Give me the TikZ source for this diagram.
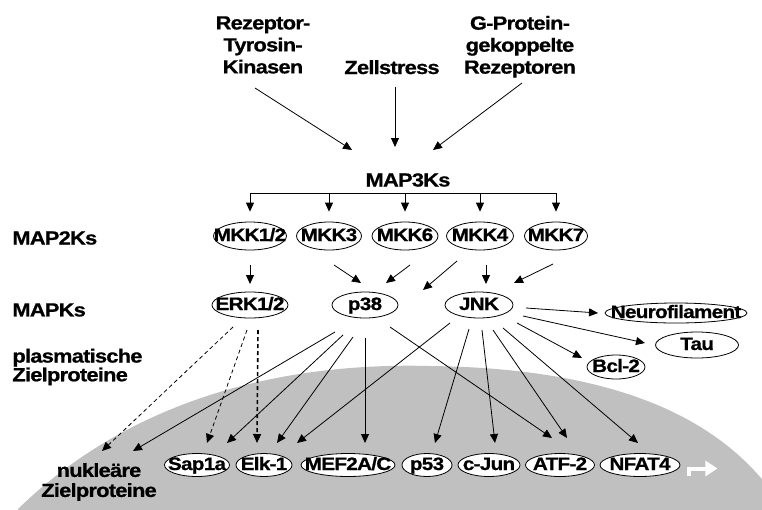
\documentclass[tikz,border=0pt]{standalone}
\usepackage{fontspec}
\setmainfont{Liberation Sans}[LetterSpace=-4,FakeStretch=1.15,BoldFeatures={FakeBold=0.8}]
\usetikzlibrary{arrows.meta,calc,shapes.geometric}
\definecolor{kern}{RGB}{192,192,192}
\newcommand{\kt}[1]{\makebox[0pt]{#1}}

\begin{document}
\begin{tikzpicture}[x=1pt,y=-1pt,>={Triangle[length=9pt,width=8pt]},line join=round,line width=0.8pt,
	font=\bfseries\fontsize{19}{22}\selectfont,
	lbl/.style={inner sep=0pt,align=center},
	kin/.style 2 args={ellipse,draw,fill=white,inner sep=0pt,minimum width=#1,minimum height=#2,
		text height=12pt,text depth=2pt,font=\bfseries\fontsize{18}{20}\selectfont},
	erkpf/.style={->,dash pattern=on 4pt off 3pt}]
	\useasboundingbox (0,0) rectangle (762,509);
	% Zellkern
	\begin{scope}
		\clip (0,0) rectangle (762,509);
		\fill[kern] (18,509) .. controls (130,400) and (280,362) .. (430,366)
		.. controls (600,368) and (730,410) .. (790,520) -- (18,520) -- cycle;
	\end{scope}
	% Ausloeser
	\node[lbl,anchor=south] (rtk) at (263,74) {Rezeptor-\\Tyrosin-\\Kinasen};
	\node[lbl,anchor=base] (zell) at (392,74) {Zellstress};
	\node[lbl,anchor=south] (gpcr) at (520,78) {G-Protein-\\gekoppelte\\Rezeptoren};
	\node[lbl] (map3k) at (408,180) {MAP3Ks};
	\coordinate (bar) at (408,193);
	% Zeilen
	\node[lbl,anchor=west] (map2k) at (12,238) {MAP2Ks};
	\node[lbl,anchor=west] (mapk) at (12,310) {MAPKs};
	\node[lbl,anchor=west,align=left,font=\bfseries\fontsize{19}{16}\selectfont] (plasm) at (12,367) {plasmatische\\Zielproteine};
	\node[lbl,font=\bfseries\fontsize{19}{20}\selectfont] (nukl) at (99,482) {nukleäre\\Zielproteine};
	% MAP2K
	\node[kin={73pt}{28pt}] (mkk12) at (250,236) {\kt{MKK1/2}};
	\node[kin={65pt}{28pt}] (mkk3) at (329,236) {\kt{MKK3}};
	\node[kin={66pt}{28pt}] (mkk6) at (405,236) {\kt{MKK6}};
	\node[kin={67pt}{28pt}] (mkk4) at (480,236) {\kt{MKK4}};
	\node[kin={63pt}{28pt}] (mkk7) at (556,236) {\kt{MKK7}};
	% MAPK
	\node[kin={76pt}{26pt}] (erk) at (250,305) {\kt{ERK1/2}};
	\node[kin={66pt}{26pt}] (p38) at (365,305) {\kt{p38}};
	\node[kin={68pt}{26pt}] (jnk) at (479,305) {\kt{JNK}};
	% plasmatisch
	\node[kin={142pt}{20pt}] (neuro) at (676,313) {\kt{Neurofilament}};
	\node[kin={83pt}{26pt}] (tau) at (697,345) {\kt{Tau}};
	\node[kin={58pt}{24pt}] (bcl) at (616,367) {\kt{Bcl-2}};
	% nukleaer
	\node[kin={65pt}{23pt}] (sap) at (197,465) {\kt{Sap1a}};
	\node[kin={56pt}{23pt}] (elk) at (264,465) {\kt{Elk-1}};
	\node[kin={94pt}{23pt}] (mef) at (348,465) {\kt{MEF2A/C}};
	\node[kin={50pt}{23pt}] (p53) at (427,465) {\kt{p53}};
	\node[kin={62pt}{23pt}] (cjun) at (489,465) {\kt{c-Jun}};
	\node[kin={69pt}{23pt}] (atf) at (560,465) {\kt{ATF-2}};
	\node[kin={80pt}{23pt}] (nfat) at (640,465) {\kt{NFAT4}};
	% Pfeile oben
	\draw[->] ($(rtk.south)+(-8,14)$) -- ($(map3k)+(-56,-30)$);
	\draw[->] ($(zell.base)+(3,13)$) -- ($(map3k)+(-13,-33)$);
	\draw[->] ($(gpcr.south)+(2,5)$) -- ($(map3k)+(25,-30)$);
	\draw (mkk12 |- bar) -- (mkk7 |- bar);
	\foreach \k in {mkk12,mkk3,mkk6,mkk4,mkk7}
		\draw[->] (\k |- bar) -- ($(\k.north)+(0,-10)$);
	% MAP2K -> MAPK
	\draw[->] ($(mkk12)+(0,29)$) -- ($(erk)+(0,-21)$);
	\draw[->] ($(mkk3)+(5,29)$) -- ($(p38)+(-4,-22)$);
	\draw[->] ($(mkk6)+(5,29)$) -- ($(p38)+(21,-22)$);
	\draw[->] ($(mkk4)+(-23,25)$) -- ($(p38)+(58,-15)$);
	\draw[->] ($(mkk4)+(6,29)$) -- ($(jnk)+(7,-21)$);
	\draw[->] ($(mkk7)+(-3,28)$) -- ($(jnk)+(35,-22)$);
	% ERK
	\draw[erkpf] ($(erk)+(-17,22)$) -- ($(nukl)+(3,-31)$);
	\draw[erkpf] ($(erk)+(-3,25)$) -- ($(sap)+(10,-22)$);
	\draw[erkpf,line width=1.6pt] ($(erk)+(8,25)$) -- ($(elk)+(-7,-22)$);
	% p38
	\draw[->] ($(p38)+(-30,27)$) -- ($(nukl)+(34,-31)$);
	\draw[->] ($(p38)+(-22,30)$) -- ($(sap)+(30,-22)$);
	\draw[->] ($(p38)+(-12,32)$) -- ($(elk)+(13,-22)$);
	\draw[->] ($(p38)+(0,33)$) -- ($(mef)+(17,-22)$);
	\draw[->] ($(p38)+(25,22)$) -- ($(atf)+(-8,-27)$);
	% JNK
	\draw[->] ($(jnk)+(-29,18)$) -- ($(elk)+(33,-22)$);
	\draw[->] ($(jnk)+(-10,24)$) -- ($(p53)+(8,-22)$);
	\draw[->] ($(jnk)+(3,25)$) -- ($(cjun)+(6,-22)$);
	\draw[->] ($(jnk)+(14,25)$) -- ($(atf)+(7,-27)$);
	\draw[->] ($(jnk)+(24,23)$) -- ($(nfat)+(-2,-22)$);
	\draw[->] ($(jnk)+(47,3)$) -- ($(neuro)+(-78,0)$);
	\draw[->] ($(jnk)+(44,11)$) -- ($(tau)+(-52,-2)$);
	\draw[->] ($(jnk)+(38,18)$) -- ($(bcl)+(-34,-9)$);
	% Transkription
	\draw[white,line width=4pt,line join=miter,-{Triangle[length=12pt,width=15pt]}]
	($(nfat.east)+(9,11)$) -- ($(nfat.east)+(9,3.5)$) -- ($(nfat.east)+(37,3.5)$);
\end{tikzpicture}
\end{document}
